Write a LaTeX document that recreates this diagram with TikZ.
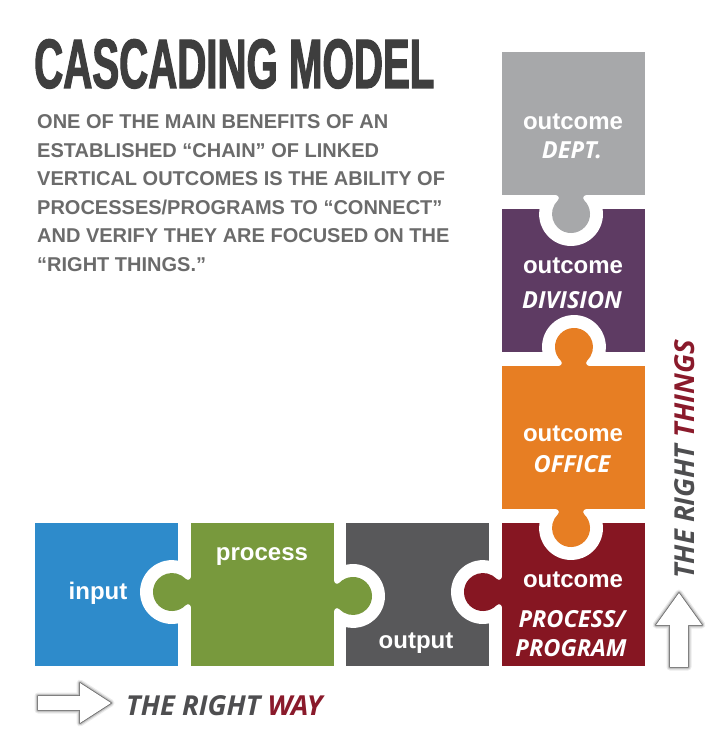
\documentclass[tikz,border=0pt]{standalone}
\usepackage{fontspec}
\setmainfont{Liberation Sans}
\newfontfamily\headfont{Liberation Sans}[FakeStretch=0.575, FakeBold=1.6]
\newfontfamily\tagfont{Open Sans}

\definecolor{inputblue}{HTML}{2E8BCB}
\definecolor{processgreen}{HTML}{78993D}
\definecolor{outputgray}{HTML}{58585A}
\definecolor{programred}{HTML}{861622}
\definecolor{officeorange}{HTML}{E77E23}
\definecolor{divisionpurple}{HTML}{5E3B63}
\definecolor{deptgray}{HTML}{A7A8AA}
\definecolor{headgray}{HTML}{3E3E3E}
\definecolor{bodygray}{HTML}{6B6B6B}
\definecolor{waygray}{HTML}{4E4E50}
\definecolor{wayred}{HTML}{8A1A2B}

\pgfdeclareradialshading{panelglow}{\pgfpoint{0bp}{0bp}}{%
  color(0bp)=(white); color(32bp)=(white); color(62bp)=(black!9); color(100bp)=(black!20)}

\tikzset{
  piece/.style={minimum width=143pt, minimum height=143pt, inner sep=0pt, outer sep=0pt, draw=none},
  word/.style={text=white, font=\bfseries\fontsize{24}{24}\selectfont, inner sep=0pt, anchor=base},
  tag/.style={text=white, font=\tagfont\bfseries\itshape\fontsize{23.5}{24}\selectfont, inner sep=0pt, anchor=base},
  body/.style={anchor=base west, inner sep=0pt, text=bodygray, font=\bfseries\fontsize{20}{20}\selectfont},
  slogan/.style={inner sep=0pt, text=waygray, font=\tagfont\bfseries\itshape\fontsize{27.5}{28}\selectfont},
  hole/.style={draw=white, line width=26pt, line join=round},
  knob/.pic={\path[pic actions] (-3,-15.1) -- (0,-15.1)
      arc[start angle=180, end angle=43.3, radius=3]
      arc[start angle=-136.7, end angle=136.7, radius=19]
      arc[start angle=-43.3, end angle=-180, radius=3]
      -- (-3,15.1) -- cycle;},
  glowline/.style={line join=round}
}

\begin{document}
\begin{tikzpicture}[x=1pt,y=-1pt]
\useasboundingbox (0,0) rectangle (721,733);
\fill[white] (0,0) rectangle (721,733);
\begin{scope}
  \clip (5,7) rectangle (721,733);
  \shade[shading=panelglow] (-240,-120) rectangle (840,960);
\end{scope}

% white base under the puzzle
\fill[white] (32,520) rectangle (648,669);
\fill[white] (499,49) rectangle (648,669);

% receiving pieces
\node[piece, fill=inputblue]      (input)    at (106.5,594.5) {};
\node[piece, fill=outputgray]     (output)   at (417.5,594.5) {};
\node[piece, fill=divisionpurple] (division) at (573.5,280.5) {};

% sockets cut by the knobs
\pic[hole, rotate=180] at (191,592) {knob};
\pic[hole]             at (334,596) {knob};
\pic[hole, rotate=180] at (502,592) {knob};
\pic[hole, rotate=-90] at (571,195) {knob};
\pic[hole, rotate=90]  at (574,366) {knob};

\node[piece, fill=processgreen] (process) at (262.5,594.5) {};
\node[piece, fill=programred]   (program) at (573.5,594.5) {};
\node[piece, fill=deptgray]     (dept)    at (573.5,123.5) {};

\pic[hole, rotate=-90] at (571,509) {knob};
\node[piece, fill=officeorange] (office) at (573.5,437.5) {};

% knobs
\pic[fill=processgreen, rotate=180] at (191,592) {knob};
\pic[fill=processgreen]             at (334,596) {knob};
\pic[fill=programred, rotate=180]   at (502,592) {knob};
\pic[fill=deptgray, rotate=-90]     at (571,195) {knob};
\pic[fill=officeorange, rotate=90]  at (574,366) {knob};
\pic[fill=officeorange, rotate=-90] at (571,509) {knob};

% piece labels
\node[word] (inputlbl)   at (98,599)  {input};
\node[word] (processlbl) at (262,560) {process};
\node[word] (outputlbl)  at (416,648) {output};
\node[word] (prog1) at (573,587) {outcome};
\node[tag]  (prog2) at (572,627) {PROCESS/};
\node[tag]  (prog3) at (571,656) {PROGRAM};
\node[word] (off1) at (573,441) {outcome};
\node[tag]  (off2) at (572,472) {OFFICE};
\node[word] (div1) at (573,273) {outcome};
\node[tag]  (div2) at (572,308) {DIVISION};
\node[word] (dep1) at (573,129) {outcome};
\node[tag]  (dep2) at (572,158) {DEPT.};

% heading and text
\node[anchor=base west, inner sep=0pt, text=headgray,
      font=\headfont\bfseries\fontsize{70}{70}\selectfont] (title) at (34,88) {CASCADING MODEL};
\node[body] (l1) at (37,128.7) {ONE OF THE MAIN BENEFITS OF AN};
\node[body] (l2) at (37,157.2) {ESTABLISHED “CHAIN” OF LINKED};
\node[body] (l3) at (37,185.7) {VERTICAL OUTCOMES IS THE ABILITY OF};
\node[body] (l4) at (37,214.2) {PROCESSES/PROGRAMS TO “CONNECT”};
\node[body] (l5) at (37,242.7) {AND VERIFY THEY ARE FOCUSED ON THE};
\node[body] (l6) at (37,271.2) {“RIGHT THINGS.”};

% direction arrows
\foreach \w/\o in {7/0.08, 4.5/0.14, 2.2/0.25, 1/0.4} {
  \draw[glowline, black, line width=\w pt, opacity=\o]
    (38,696) -- (80,696) -- (80,683) -- (111,703) -- (80,723) -- (80,710) -- (38,710) -- cycle;
  \draw[glowline, black, line width=\w pt, opacity=\o]
    (670,667) -- (670,625) -- (656,625) -- (679,593) -- (702,625) -- (688,625) -- (688,667) -- cycle;
}
\fill[white] (38,696) -- (80,696) -- (80,683) -- (111,703) -- (80,723) -- (80,710) -- (38,710) -- cycle;
\fill[white] (670,667) -- (670,625) -- (656,625) -- (679,593) -- (702,625) -- (688,625) -- (688,667) -- cycle;

\node[slogan, anchor=base west] (way) at (126,715) {THE RIGHT \textcolor{wayred}{WAY}};
\node[slogan, anchor=base west, rotate=90] (things) at (694,579) {THE RIGHT \textcolor{wayred}{THINGS}};
\end{tikzpicture}
\end{document}
